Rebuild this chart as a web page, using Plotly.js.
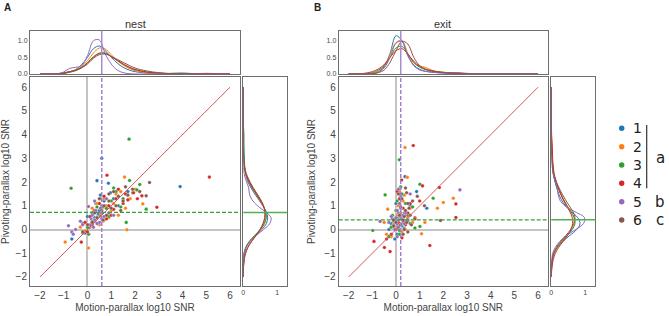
<!DOCTYPE html>
<html><head><meta charset="utf-8">
<script src="https://cdn.plot.ly/plotly-3.0.1.min.js"></script>
<style>html,body{margin:0;padding:0;background:#fff;}#chart{width:669px;height:316px;}</style>
</head><body><div id="chart"></div>
<script>
// ---------------- DATA ----------------
const categories = ['1','2','3','4','5','6'];
const groupLabels = ['a','b','c'];
const panelTitles = ['nest','exit'];
const panelLetters = ['A','B'];
const axisTitleX = 'Motion-parallax log10 SNR';
const axisTitleY = 'Pivoting-parallax log10 SNR';
const mainTicks = [-2,-1,0,1,2,3,4,5,6];
const topTicks = [0,0.5,1];
const topTickText = ['0.0','0.5','1.0'];
const rightTicks = [0,1];
const diagX = [-2,6];
const diagY = [-2,6];
const refXnest = 0.6, refYnest = 0.72;
const refXexit = 0.2, refYexit = 0.41;

// nest scatter (series 1..6)
const nestX = [
 [0.6,0.4,3.9,-0.66,0.88,0.97,0.3,0.5,0.2,0.7,0.45,1.1,0.1,-0.2,0.6,0.8,1.3,0.35,0.55,1.5,0.0,0.25,0.9,1.7,-0.1],
 [1.56,2.33,1.66,-0.94,0.04,0.6,0.8,0.3,1.2,0.5,1.0,-0.3,0.7,1.4,0.2,0.9,1.8,0.4,1.1,-0.1,0.65,1.6,0.15,2.0,1.3],
 [1.75,-0.69,1.77,2.47,1.63,2.08,0.5,0.8,1.0,0.3,0.0,1.2,0.6,1.5,0.2,0.9,-0.2,1.4,0.7,1.1,0.4,0.05,1.9,0.55,2.2],
 [5.13,0.82,2.92,-0.26,1.94,2.29,0.6,0.9,1.2,0.4,1.0,0.7,1.5,0.2,-0.1,1.3,0.5,1.7,0.8,1.1,0.3,0.0,1.6,0.65,2.1],
 [-0.8,-0.66,0.04,0.3,0.2,0.4,0.5,-0.5,0.1,0.35,0.6,-0.3,0.25,0.45,0.7,0.15,-0.6,0.55,0.3,0.9,-0.2,0.4,0.8,1.1,0.2],
 [2.61,2.47,0.6,0.9,1.3,0.4,1.6,1.0,0.7,1.9,0.2,1.2,0.5,1.5,0.8,0.0,1.1,0.3,1.7,2.2,-0.2,0.65,1.4,0.9,0.1]
];
const nestY = [
 [3.0,2.06,1.81,-0.4,1.95,1.55,0.5,0.8,0.3,1.2,0.6,1.3,0.1,0.25,0.45,0.9,1.0,1.1,1.45,1.2,0.55,0.75,0.7,1.6,-0.15],
 [2.21,1.08,-0.01,-0.53,-0.78,0.7,1.0,0.4,1.5,0.2,0.8,0.1,1.3,1.6,0.9,0.5,1.3,1.1,1.1,-0.05,0.35,0.9,0.15,1.7,0.6],
 [3.81,1.74,2.07,0.86,0.3,1.67,0.6,0.9,1.2,0.35,0.1,1.6,1.0,1.3,0.7,0.55,-0.15,0.95,0.4,1.75,0.95,-0.2,1.55,1.3,1.9],
 [2.21,2.29,0.94,-0.53,1.55,1.42,0.7,1.0,1.3,0.5,0.6,1.4,1.1,0.2,0.3,1.7,1.1,1.25,0.45,0.85,0.8,-0.1,1.5,0.95,1.3],
 [0.16,-0.1,0.97,0.4,0.6,0.5,0.3,0.0,0.2,0.8,0.45,0.35,0.1,0.65,0.55,0.45,-0.2,0.9,1.2,0.7,0.2,0.25,1.3,0.6,0.35],
 [1.98,1.42,0.8,1.2,1.4,0.5,1.8,0.9,1.0,1.7,0.3,1.0,1.3,1.2,0.6,0.2,1.6,0.7,1.45,1.6,-0.1,0.4,0.8,1.5,0.55]
];
// exit scatter (series 1..6)
const exitX = [
 [0.38,0.87,0.1,0.0,-0.1,0.2,0.05,0.3,-0.2,0.15,0.1,-0.05,0.25,0.4,-0.3,0.0,0.5,0.15,0.6,0.2,-0.15,0.1,0.35,0.05,1.3],
 [0.38,0.48,2.42,2.0,1.75,1.08,-0.35,1.22,0.1,0.2,0.0,0.3,-0.2,0.5,0.15,-0.1,0.4,0.6,0.25,0.1,-0.4,0.7,0.05,0.35,-0.5],
 [0.14,1.01,1.57,-0.98,-0.46,0.8,1.01,0.1,0.2,0.0,0.3,-0.2,0.4,0.15,0.5,-0.1,0.25,0.6,0.05,-0.3,0.35,0.1,0.7,-0.15,0.2],
 [0.73,0.24,1.12,1.83,2.53,2.53,1.43,-0.25,-0.49,-0.93,0.1,0.2,0.0,0.3,-0.2,0.4,0.15,0.5,-0.1,0.6,0.25,-0.4,0.8,0.05,1.0],
 [2.7,-0.67,0.1,0.2,0.0,0.15,0.3,-0.1,0.05,0.25,-0.2,0.1,0.4,0.2,0.0,0.35,-0.05,0.15,0.5,0.1,-0.3,0.3,0.6,0.05,0.2],
 [1.88,0.3,0.4,0.2,0.5,0.35,0.6,0.1,0.45,0.25,0.7,0.3,0.15,0.55,0.4,0.8,0.0,0.5,0.35,0.9,0.2,0.65,0.45,1.2,-0.1]
];
const exitY = [
 [2.23,1.6,0.3,0.5,0.1,0.9,-0.2,0.4,0.25,1.3,0.7,-0.4,0.15,0.6,0.0,1.1,0.35,-0.05,1.0,0.55,0.45,1.7,0.05,0.2,0.9],
 [3.46,2.2,1.32,1.14,0.9,-0.18,0.86,0.3,0.4,0.7,0.1,1.2,-0.3,0.5,1.6,0.2,0.0,0.9,-0.1,1.0,-0.2,0.3,0.6,1.45,0.3],
 [2.94,1.91,1.32,-0.04,1.46,0.06,0.13,0.5,0.2,0.8,0.4,0.1,1.1,-0.2,0.6,0.35,1.5,0.25,1.2,-0.3,0.7,0.0,0.95,0.6,1.8],
 [3.54,2.09,1.84,1.77,1.08,0.51,-0.67,-0.93,-0.76,-0.5,0.3,0.6,0.0,0.9,-0.2,0.2,1.3,0.7,0.4,1.1,-0.35,-0.4,0.5,1.6,1.2],
 [1.67,0.34,0.4,0.5,0.3,0.6,0.35,0.2,0.8,0.45,0.55,0.1,0.7,1.4,0.5,0.25,0.0,1.1,0.4,1.7,0.3,0.6,1.5,-0.3,0.9],
 [0.38,0.4,0.8,0.2,1.1,0.0,0.6,1.5,0.3,1.3,1.2,-0.2,0.6,0.9,1.75,0.45,0.3,-0.1,0.55,1.4,0.95,0.2,1.55,1.0,0.15]
];

// marginal density curves
const gridX = [-2,-1.5,-1.25,-1,-0.75,-0.5,-0.25,0,0.25,0.5,0.75,1,1.25,1.5,1.75,2,2.5,3,3.5,4,4.5,5,5.5,6];
const nestTopDens = [
 [0,0,0,0.02,0.06,0.13,0.28,0.5,0.76,0.84,0.7,0.5,0.33,0.2,0.12,0.07,0.03,0.01,0.02,0.03,0.01,0,0,0],
 [0,0,0,0.03,0.07,0.12,0.22,0.4,0.63,0.78,0.75,0.58,0.4,0.27,0.17,0.1,0.04,0.01,0,0,0,0,0,0],
 [0,0,0.01,0.03,0.07,0.12,0.2,0.34,0.52,0.63,0.63,0.53,0.41,0.3,0.21,0.14,0.06,0.02,0.01,0,0,0,0,0],
 [0,0,0.01,0.03,0.07,0.11,0.19,0.33,0.5,0.61,0.61,0.52,0.41,0.3,0.2,0.13,0.06,0.03,0.01,0.01,0.01,0.02,0.01,0],
 [0,0,0.01,0.06,0.17,0.2,0.25,0.55,1.0,1.02,0.6,0.3,0.12,0.04,0.01,0,0,0,0,0,0,0,0,0],
 [0,0,0.01,0.02,0.05,0.1,0.18,0.3,0.47,0.58,0.6,0.53,0.44,0.35,0.26,0.18,0.09,0.04,0.01,0,0,0,0,0]
];
const exitTopDens = [
 [0,0,0,0.01,0.06,0.22,0.62,1.15,1.0,0.55,0.27,0.14,0.08,0.06,0.04,0.03,0.01,0,0,0,0,0,0,0],
 [0,0,0,0.02,0.08,0.25,0.58,0.95,1.0,0.62,0.33,0.24,0.2,0.12,0.07,0.05,0.03,0.01,0,0,0,0,0,0],
 [0,0,0.01,0.04,0.11,0.25,0.5,0.78,0.83,0.6,0.35,0.2,0.13,0.09,0.06,0.05,0.03,0.01,0,0,0,0,0,0],
 [0,0.01,0.03,0.07,0.15,0.28,0.5,0.7,0.76,0.6,0.38,0.23,0.15,0.1,0.07,0.05,0.03,0.01,0,0,0,0,0,0],
 [0,0,0,0.01,0.05,0.18,0.5,0.92,0.98,0.55,0.25,0.12,0.08,0.05,0.04,0.03,0.04,0.02,0,0,0,0,0,0],
 [0,0,0,0.01,0.04,0.12,0.35,0.7,0.98,0.9,0.5,0.25,0.14,0.09,0.06,0.04,0.02,0.01,0,0,0,0,0,0]
];
const gridY = [-2,-1.75,-1.5,-1.25,-1,-0.75,-0.5,-0.25,0,0.25,0.5,0.75,1,1.25,1.5,1.75,2,2.25,2.5,3,3.5,4,4.5,5,6];
const nestRightDens = [
 [0,0,0,0,0.02,0.07,0.18,0.36,0.55,0.68,0.72,0.68,0.58,0.46,0.34,0.23,0.14,0.08,0.05,0.03,0.01,0,0,0,0],
 [0,0,0,0.01,0.03,0.09,0.2,0.36,0.52,0.63,0.67,0.65,0.58,0.48,0.37,0.26,0.16,0.09,0.04,0.01,0,0,0,0,0],
 [0,0,0,0.01,0.03,0.08,0.18,0.33,0.5,0.62,0.68,0.66,0.59,0.49,0.38,0.27,0.17,0.1,0.05,0.02,0.02,0.02,0,0,0],
 [0,0,0.01,0.03,0.07,0.14,0.25,0.38,0.5,0.59,0.64,0.64,0.59,0.5,0.39,0.28,0.18,0.1,0.05,0.01,0,0,0,0,0],
 [0,0,0,0,0.02,0.08,0.2,0.38,0.6,0.78,0.82,0.65,0.42,0.26,0.18,0.16,0.1,0.04,0.01,0,0,0,0,0,0],
 [0,0,0.01,0.03,0.06,0.13,0.24,0.37,0.49,0.58,0.63,0.64,0.6,0.52,0.41,0.3,0.2,0.12,0.06,0.01,0,0,0,0,0]
];
const exitRightDens = [
 [0,0,0.01,0.03,0.08,0.18,0.34,0.55,0.75,0.85,0.78,0.6,0.42,0.3,0.22,0.16,0.11,0.07,0.04,0.02,0,0,0,0,0],
 [0,0,0.01,0.03,0.08,0.17,0.3,0.46,0.6,0.68,0.67,0.58,0.46,0.35,0.27,0.2,0.14,0.09,0.06,0.03,0.02,0,0,0,0],
 [0,0,0.01,0.03,0.08,0.18,0.32,0.48,0.62,0.7,0.68,0.58,0.47,0.37,0.28,0.2,0.13,0.08,0.05,0.03,0.01,0,0,0,0],
 [0,0.01,0.03,0.06,0.12,0.22,0.35,0.48,0.58,0.63,0.62,0.55,0.45,0.36,0.28,0.21,0.15,0.1,0.07,0.04,0.03,0.01,0,0,0],
 [0,0,0,0.01,0.04,0.12,0.25,0.45,0.72,0.95,0.98,0.7,0.4,0.25,0.2,0.17,0.12,0.07,0.04,0.01,0,0,0,0,0],
 [0,0,0.01,0.03,0.07,0.15,0.28,0.43,0.57,0.66,0.7,0.64,0.53,0.42,0.32,0.23,0.15,0.09,0.05,0.02,0,0,0,0,0]
];

// ---------------- STYLE ----------------
const colors = ['#1f77b4','#ff7f0e','#2ca02c','#d62728','#9467bd','#8c564b'];
const W = 669, H = 316;
const fx = p => p / W;
const fy = p => 1 - p / H;
const FONT = 'Liberation Sans, Arial, sans-serif';
const TXT = '#444';

const mainYDom = [fy(286), fy(77)];
const topYDom = [fy(74), fy(30.7)];
const panels = [
  {name:'nest', X:nestX, Y:nestY, top:nestTopDens, right:nestRightDens, refX:refXnest, refY:refYnest,
   mainX:[fx(30), fx(240)], rightX:[fx(243.3), fx(287.3)], ax:['', '2', '3'], title:panelTitles[0], letter:panelLetters[0], letterX:7, titleX:135},
  {name:'exit', X:exitX, Y:exitY, top:exitTopDens, right:exitRightDens, refX:refXexit, refY:refYexit,
   mainX:[fx(338.7), fx(548)], rightX:[fx(551.3), fx(595.3)], ax:['4', '5', '6'], title:panelTitles[1], letter:panelLetters[1], letterX:317, titleX:443}
];
const xRange = [-2.42, 6.42];
const yRange = [-2.38, 6.43];
const dRange = [0, 1.3];

const base = {showgrid:false, zeroline:false, showline:true, mirror:true, linecolor:'#6e6e6e', linewidth:1,
  ticks:'', tickfont:{family:FONT, size:10, color:TXT}, fixedrange:true};

const traces = [];
const layout = {width:W, height:H, margin:{l:0,r:0,t:0,b:0}, paper_bgcolor:'#fff', plot_bgcolor:'#fff',
  showlegend:false, font:{family:FONT, color:TXT}, shapes:[], annotations:[]};

panels.forEach(p => {
  const [m, t, r] = p.ax;
  const xm = 'x'+m, ym = 'y'+m, xt = 'x'+t, yt = 'y'+t, xr = 'x'+r, yr = 'y'+r;
  layout['xaxis'+m] = Object.assign({}, base, {domain:p.mainX, range:xRange, tickvals:mainTicks, anchor:ym,
    zeroline:true, zerolinecolor:'#c4c4c4', zerolinewidth:2,
    title:{text:axisTitleX, font:{family:FONT, size:10, color:TXT}, standoff:3}});
  layout['yaxis'+m] = Object.assign({}, base, {domain:mainYDom, range:yRange, tickvals:mainTicks, anchor:xm,
    zeroline:true, zerolinecolor:'#c4c4c4', zerolinewidth:2,
    title:{text:axisTitleY, font:{family:FONT, size:10, color:TXT}, standoff:6}});
  layout['xaxis'+t] = Object.assign({}, base, {domain:p.mainX, range:xRange, showticklabels:false, anchor:yt});
  layout['yaxis'+t] = Object.assign({}, base, {domain:topYDom, range:dRange, tickvals:topTicks, ticktext:topTickText,
    tickfont:{family:FONT, size:7, color:TXT}, anchor:xt});
  layout['xaxis'+r] = Object.assign({}, base, {domain:p.rightX, range:dRange, tickvals:rightTicks,
    tickfont:{family:FONT, size:7, color:TXT}, anchor:yr});
  layout['yaxis'+r] = Object.assign({}, base, {domain:mainYDom, range:yRange, showticklabels:false, anchor:xr});

  categories.forEach((c, i) => {
    traces.push({type:'scatter', mode:'markers', name:c, x:p.X[i], y:p.Y[i], xaxis:xm, yaxis:ym,
      marker:{color:colors[i], size:3.6, line:{color:'#fff', width:0.3}}, hoverinfo:'skip'});
  });
  traces.push({type:'scatter', mode:'lines', x:diagX, y:diagY, xaxis:xm, yaxis:ym,
    line:{color:'#d45a58', width:1}, hoverinfo:'skip'});
  categories.forEach((c, i) => {
    traces.push({type:'scatter', mode:'lines', name:c, x:gridX, y:p.top[i], xaxis:xt, yaxis:yt,
      line:{color:colors[i], width:1, shape:'spline', smoothing:1}, hoverinfo:'skip'});
    traces.push({type:'scatter', mode:'lines', name:c, x:p.right[i], y:gridY, xaxis:xr, yaxis:yr,
      line:{color:colors[i], width:1, shape:'spline', smoothing:1}, hoverinfo:'skip'});
  });

  const dash = '4px,2px';
  layout.shapes.push(
    {type:'line', xref:xm, yref:ym+' domain', x0:p.refX, x1:p.refX, y0:0, y1:1, line:{color:'#a180d2', width:1.5, dash:dash}},
    {type:'line', xref:xm+' domain', yref:ym, x0:0, x1:1, y0:p.refY, y1:p.refY, line:{color:'#36a336', width:1.3, dash:dash}},
    {type:'line', xref:xt, yref:yt+' domain', x0:p.refX, x1:p.refX, y0:0, y1:1, line:{color:'#a78bd3', width:1.5}},
    {type:'line', xref:xr+' domain', yref:yr, x0:0, x1:1, y0:p.refY, y1:p.refY, line:{color:'#4fb04f', width:1.5}}
  );
  layout.annotations.push(
    {xref:'paper', yref:'paper', x:fx(p.titleX), y:fy(24), text:p.title, showarrow:false, xanchor:'center', yanchor:'middle',
     font:{family:FONT, size:11, color:'#333'}},
    {xref:'paper', yref:'paper', x:fx(p.letterX), y:fy(7), text:'<b>'+p.letter+'</b>', showarrow:false, xanchor:'center', yanchor:'middle',
     font:{family:FONT, size:10, color:'#222'}}
  );
});

// custom legend
const legY = [128.3,146.7,165,183.3,201.7,220];
categories.forEach((c, i) => {
  layout.shapes.push({type:'circle', xref:'paper', yref:'paper', x0:fx(619), x1:fx(624.4), y0:fy(legY[i]+2.7), y1:fy(legY[i]-2.7),
    fillcolor:colors[i], line:{width:0}});
  layout.annotations.push({xref:'paper', yref:'paper', x:fx(631), y:fy(legY[i]), text:c, showarrow:false, xanchor:'left', yanchor:'middle',
    font:{family:'DejaVu Sans', size:14, color:'#222'}});
});
layout.shapes.push({type:'line', xref:'paper', yref:'paper', x0:fx(646.7), x1:fx(646.7), y0:fy(125), y1:fy(188.3), line:{color:'#333', width:1.2}});
const grpY = [158, 202, 220];
groupLabels.forEach((g, i) => {
  layout.annotations.push({xref:'paper', yref:'paper', x:fx(660), y:fy(grpY[i]), text:g, showarrow:false, xanchor:'center', yanchor:'middle',
    font:{family:'DejaVu Sans', size:15, color:'#222'}});
});

Plotly.newPlot('chart', traces, layout, {staticPlot:true, displayModeBar:false});
</script></body></html>
